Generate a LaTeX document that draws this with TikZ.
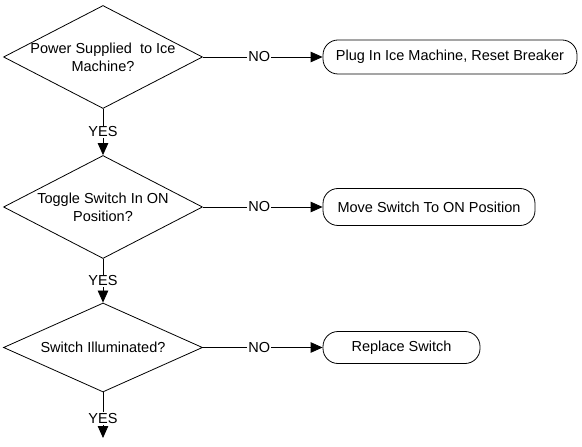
\documentclass[tikz,border=0pt]{standalone}
\usepackage{fontspec}
\setmainfont{Liberation Sans}
\usetikzlibrary{shapes.geometric,arrows.meta}
\begin{document}
\begin{tikzpicture}[x=1bp,y=-1bp,
  every node/.style={font=\fontsize{14.5bp}{18bp}\selectfont},
  dec/.style={draw, diamond, minimum width=199bp, inner sep=0pt, line width=0.8bp},
  act/.style={draw, rounded corners=15bp, inner sep=0pt, line width=0.8bp},
  flow/.style={line width=0.8bp, -{Triangle[length=12bp,width=10.5bp]}},
  lbl/.style={fill=white, inner sep=1bp}]
\useasboundingbox (0,0) rectangle (582,447);
\node[dec, minimum height=103bp, label={[align=center]center:Power Supplied\ \ to Ice\\Machine?}] (d1) at (103,57) {};
\node[dec, minimum height=103bp, label={[align=center]center:Toggle Switch In ON\\Position?}] (d2) at (103,207) {};
\node[dec, minimum height=89bp, label={[align=center]center:Switch Illuminated?}] (d3) at (103,347.5) {};
\node[act, minimum width=254bp, minimum height=34bp] (b1) at (450,57) {Plug In Ice Machine, Reset Breaker};
\node[act, minimum width=212bp, minimum height=37bp] (b2) at (429,207) {Move Switch To ON Position};
\node[act, minimum width=157bp, minimum height=32bp] (b3) at (401.5,347.5) {Replace Switch};
\coordinate (e) at (103,438);
\draw[flow] (d1.east) -- node[lbl,pos=0.47]{NO} (b1.west);
\draw[flow] (d2.east) -- node[lbl,pos=0.47]{NO} (b2.west);
\draw[flow] (d3.east) -- node[lbl,pos=0.47]{NO} (b3.west);
\draw[flow] (d1.south) -- node[lbl]{YES} (d2.north);
\draw[flow] (d2.south) -- node[lbl]{YES} (d3.north);
\draw[flow] (d3.south) -- node[lbl,pos=0.57]{YES} (e);
\end{tikzpicture}
\end{document}
